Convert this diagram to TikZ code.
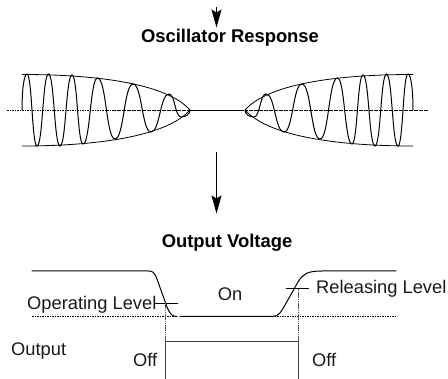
\documentclass[tikz,border=0pt]{standalone}
\usepackage{fontspec}
\setmainfont{Liberation Sans}
\usetikzlibrary{arrows.meta}
\tikzset{
  ln/.style={draw=black,line width=1pt,line cap=round},
  dsh/.style={draw=black,line width=0.7pt,dash pattern=on 1.6pt off 0.9pt},
  gdsh/.style={draw=black!65,line width=0.8pt,dash pattern=on 1.6pt off 0.6pt},
  thin line/.style={draw=black,line width=0.8pt},
  arr/.style={draw=black,line width=0.85pt,-{Stealth[length=18pt,width=10pt,inset=3pt]}},
  ttl/.style={font=\fontsize{18.4}{20}\selectfont\bfseries,inner sep=0pt},
  lbl/.style={font=\fontsize{18.3}{20}\selectfont,inner sep=0pt,text=black!90}
}
\newcommand{\oscwave}{%
  \draw[ln] (22,110) .. controls (22,90) and (24,74) .. (27,74);
  \foreach \xa/\ya/\xb/\yb in {27/74/37/146,37/146/48.5/74,48.5/74/60/146,60/146/72/75,72/75/83/144,83/144/97.5/78,97.5/78/115/139,115/139/133/84,133/84/151/132,151/132/169/94,169/94/181/117}
    \draw[ln] (\xa,\ya) .. controls ({\xa+0.5*(\xb-\xa)},\ya) and ({\xb-0.5*(\xb-\xa)},\yb) .. (\xb,\yb);
  \draw[ln] (181,117) .. controls (186,117) and (190,114) .. (190,110);
  \draw[thin line] (22,74.5) .. controls (90,74.5) and (165,82) .. (190,110);
  \draw[thin line] (22,146) .. controls (90,146) and (165,138) .. (190,110);
  \draw[dsh] (7,110) -- (190,110);
}
\begin{document}
\begin{tikzpicture}[x=1pt,y=-1pt]
\useasboundingbox (0,0) rectangle (448,379);
% top arrow and title
\coordinate (a1) at (216.5,7);
\coordinate (a2) at (216.5,27.5);
\draw[arr] (a1) -- (a2);
\node[ttl] (t1) at (230,38) {Oscillator Response};
% oscillator
\oscwave
\begin{scope}[xshift=435pt,xscale=-1]
\oscwave
\end{scope}
\coordinate (m1) at (190,110);
\coordinate (m2) at (244,110);
\draw[thin line] (m1) -- (m2);
% middle arrow and title
\coordinate (a3) at (216.5,152);
\coordinate (a4) at (216.5,213.5);
\draw[arr] (a3) -- (a4);
\node[ttl] (t2) at (227,243) {Output Voltage};
% output voltage curve
\coordinate (h1) at (32,271);
\coordinate (h2) at (148,271);
\coordinate (l1) at (177,316.5);
\coordinate (l2) at (180,316.5);
\coordinate (l3) at (272,316.5);
\coordinate (h3) at (322,271);
\coordinate (h4) at (396,271);
\draw[ln] (h1) -- (h2) .. controls (153,271) and (154,272) .. (157,279) -- (167,307) .. controls (170,314) and (172,316.5) .. (l1);
\draw[ln] (l2) -- (l3) .. controls (279,316.5) and (281,312) .. (285,305) -- (298,282) .. controls (303,274) and (307,271) .. (h3) -- (h4);
\draw[dsh] (32,316.5) -- (l1);
\draw[dsh] (l3) -- (396,316.5);
% level ticks
\coordinate (o1) at (155,303.5);
\coordinate (o2) at (178,303.5);
\coordinate (r1) at (286,288.7);
\coordinate (r2) at (309,288.7);
\draw[thin line] (o1) -- (o2);
\draw[thin line] (r1) -- (r2);
% output pulse
\coordinate (p0) at (165.5,379);
\coordinate (p1) at (165.5,342);
\coordinate (p2) at (298,342);
\coordinate (p3) at (298,379);
\draw[draw=black!75,line width=1pt] (p0) -- (p1) -- (p2) -- (p3);
\draw[gdsh] (p1) -- (165.5,303.5);
\draw[gdsh] (p2) -- (298,288.7);
% labels
\node[lbl,anchor=west] (oplevel) at (27,305) {Operating Level};
\node[lbl,anchor=west] (rellevel) at (316,289) {Releasing Level};
\node[lbl] (on) at (230,294) {On};
\node[lbl,anchor=west] (out) at (11,351) {Output};
\node[lbl,anchor=west] (off1) at (133,360) {Off};
\node[lbl,anchor=west] (off2) at (312,360) {Off};
\end{tikzpicture}
\end{document}
